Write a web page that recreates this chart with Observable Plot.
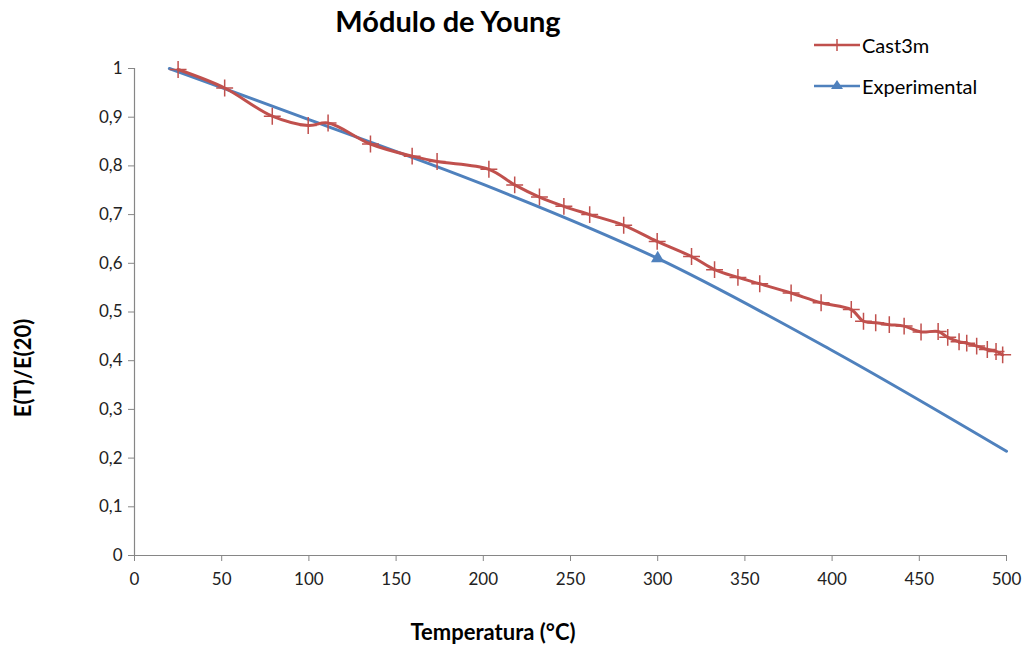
<!DOCTYPE html>
<html>
<head>
<meta charset="utf-8">
<script src="https://cdn.jsdelivr.net/npm/d3@7"></script>
<script src="https://cdn.jsdelivr.net/npm/@observablehq/plot@0.6"></script>
<style>
  body { margin: 0; background: #fff; font-family: Lato, "Open Sans", sans-serif; }
  #wrap { position: relative; width: 1027px; height: 646px; overflow: hidden; }
  #chart { position: absolute; left: 0; top: 0; }
  .title { position: absolute; left: 0; width: 896px; top: 3px; text-align: center; font-weight: bold; font-size: 29px; color: #000; }
  .xlabel { position: absolute; left: 293px; width: 400px; top: 618px; text-align: center; font-weight: bold; font-size: 22px; color: #000; }
  .ylabel { position: absolute; left: 22px; top: 368px; transform: translate(-50%, -50%) rotate(-90deg); white-space: nowrap; font-weight: bold; font-size: 22px; color: #000; }
  .legend { position: absolute; left: 812px; top: 31px; font-size: 20px; color: #000; }
  .legend .item { display: flex; align-items: center; height: 28px; margin-bottom: 13px; }
  .legend svg { margin-right: 2px; }
</style>
</head>
<body>
<div id="wrap">
  <div id="chart"></div>
  <div class="title">Módulo de Young</div>
  <div class="legend">
    <div class="item"><svg width="48" height="20"><line x1="2" y1="10" x2="48" y2="10" stroke="#C0504D" stroke-width="2.5"/><line x1="25" y1="4" x2="25" y2="16" stroke="#C0504D" stroke-width="1.5"/><line x1="19" y1="10" x2="31" y2="10" stroke="#C0504D" stroke-width="1.5"/></svg><span>Cast3m</span></div>
    <div class="item"><svg width="48" height="20"><line x1="2" y1="10" x2="48" y2="10" stroke="#4F81BD" stroke-width="2.5"/><path d="M25,4 L31,13 L19,13 Z" fill="#4F81BD"/></svg><span>Experimental</span></div>
  </div>
  <div class="xlabel">Temperatura (°C)</div>
  <div class="ylabel">E(T)/E(20)</div>
</div>
<script>
// Cast3m simulation
const castT = [25, 51.7, 79, 99.6, 111, 135.3, 159.2, 173.5, 203.2, 218, 232.2, 246.2, 261, 280.5, 299.7,
  319.4, 332.6, 346, 358.5, 376.5, 393.7, 411, 418, 425, 432.8, 441.3, 451, 460.8, 466.3, 472.8, 477.2, 482.9, 489, 494, 497.8];
const castV = [0.998, 0.960, 0.902, 0.883, 0.888, 0.845, 0.820, 0.809, 0.793, 0.761, 0.736, 0.717, 0.700, 0.678, 0.645,
  0.614, 0.587, 0.571, 0.558, 0.539, 0.519, 0.505, 0.481, 0.478, 0.474, 0.471, 0.459, 0.460, 0.448, 0.439, 0.436, 0.430, 0.423, 0.419, 0.412];
// Experimental curve
const expT = [20, 100, 200, 300, 400, 500];
const expV = [1.0, 0.895, 0.762, 0.61, 0.421, 0.214];
const expMarkerT = [300];
// ticks
const xTicks = [0, 50, 100, 150, 200, 250, 300, 350, 400, 450, 500];
const yTicks = [0, 0.1, 0.2, 0.3, 0.4, 0.5, 0.6, 0.7, 0.8, 0.9, 1];

const cast = castT.map((t, i) => ({t, v: castV[i]}));
const exp = expT.map((t, i) => ({t, v: expV[i]}));
const expMarkers = exp.filter(d => expMarkerT.includes(d.t));

const red = "#C0504D", blue = "#4F81BD", axisGray = "#868686";
const fmt = d => String(+d.toFixed(1)).replace(".", ",");

const chart = Plot.plot({
  width: 1027,
  height: 646,
  marginTop: 68,
  marginBottom: 91,
  marginLeft: 134,
  marginRight: 21,
  style: {fontFamily: "Lato, 'Open Sans', sans-serif", fontSize: "17px", color: "#222", background: "transparent"},
  x: {domain: [0, 500]},
  y: {domain: [0, 1]},
  marks: [
    Plot.axisX({ticks: xTicks, tickSize: 6, tickPadding: 11, stroke: axisGray, label: null, fontSize: 17, tickFormat: d => String(d)}),
    Plot.axisY({ticks: yTicks, tickSize: 6, tickPadding: 6, stroke: axisGray, label: null, fontSize: 17, tickFormat: fmt}),
    Plot.ruleX([0], {stroke: axisGray, strokeWidth: 1.2}),
    Plot.ruleY([0], {stroke: axisGray, strokeWidth: 1.2}),
    Plot.line(exp, {x: "t", y: "v", stroke: blue, strokeWidth: 3, curve: "catmull-rom"}),
    Plot.dot(expMarkers, {x: "t", y: "v", symbol: "triangle", fill: blue, r: 5}),
    Plot.line(cast, {x: "t", y: "v", stroke: red, strokeWidth: 3, curve: "catmull-rom"}),
    Plot.dot(cast, {x: "t", y: "v", symbol: "plus", stroke: red, strokeWidth: 1.5, r: 5.5})
  ]
});
document.getElementById("chart").appendChild(chart);
</script>
</body>
</html>
